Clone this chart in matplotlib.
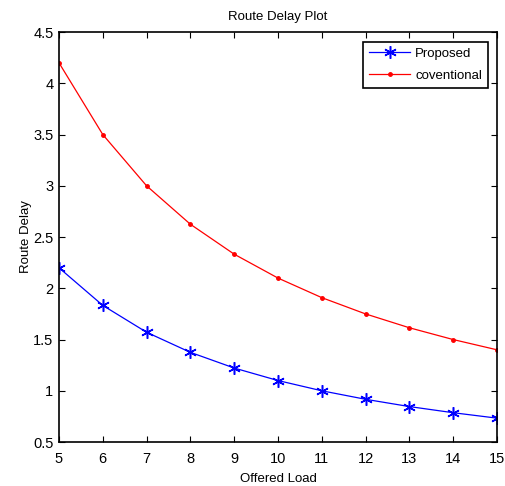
import matplotlib
matplotlib.use("Agg")
import matplotlib.pyplot as plt

plt.rcParams['font.family'] = ['Liberation Sans', 'DejaVu Sans']

offered_load = [5, 6, 7, 8, 9, 10, 11, 12, 13, 14, 15]
proposed = [2.2, 1.833, 1.571, 1.375, 1.222, 1.1, 1.0, 0.917, 0.846, 0.786, 0.733]
conventional = [4.2, 3.5, 3.0, 2.625, 2.333, 2.1, 1.909, 1.75, 1.615, 1.5, 1.4]
x_ticks = [5, 6, 7, 8, 9, 10, 11, 12, 13, 14, 15]
y_ticks = [0.5, 1, 1.5, 2, 2.5, 3, 3.5, 4, 4.5]

fig = plt.figure(figsize=(5.06, 4.86), dpi=100)
ax = fig.add_axes([0.1166, 0.0905, 0.8654, 0.8435])

ax.plot(offered_load, proposed, color='blue', marker=(6, 2, 0), markersize=9,
        markeredgewidth=1.1, linewidth=0.9, label='Proposed')
ax.plot(offered_load, conventional, color='red', marker='.', markersize=5,
        linewidth=0.9, label='coventional')

ax.set_xlim(5, 15)
ax.set_ylim(0.5, 4.5)
ax.set_xticks(x_ticks)
ax.set_xticklabels([str(v) for v in x_ticks])
ax.set_yticks(y_ticks)
ax.set_yticklabels(['0.5', '1', '1.5', '2', '2.5', '3', '3.5', '4', '4.5'])
ax.tick_params(direction='in', top=True, right=True, length=4, width=0.8,
               labelsize=10.5, colors='black')
ax.tick_params(axis='x', pad=7)
ax.tick_params(axis='y', pad=4)
for s in ax.spines.values():
    s.set_linewidth(1.2)

ax.set_title('Route Delay Plot', fontsize=9.5, pad=9)
ax.set_xlabel('Offered Load', fontsize=9.5, labelpad=5)
ax.set_ylabel('Route Delay', fontsize=9.5, labelpad=1)

leg = ax.legend(loc='upper right', fontsize=9.5, fancybox=False, framealpha=1,
                edgecolor='black', borderpad=0.45, handlelength=3.1,
                labelspacing=0.75, handletextpad=0.4, numpoints=1,
                bbox_to_anchor=(0.995, 0.993))
leg.get_frame().set_linewidth(1.2)

fig.savefig('out.png', dpi=100)
